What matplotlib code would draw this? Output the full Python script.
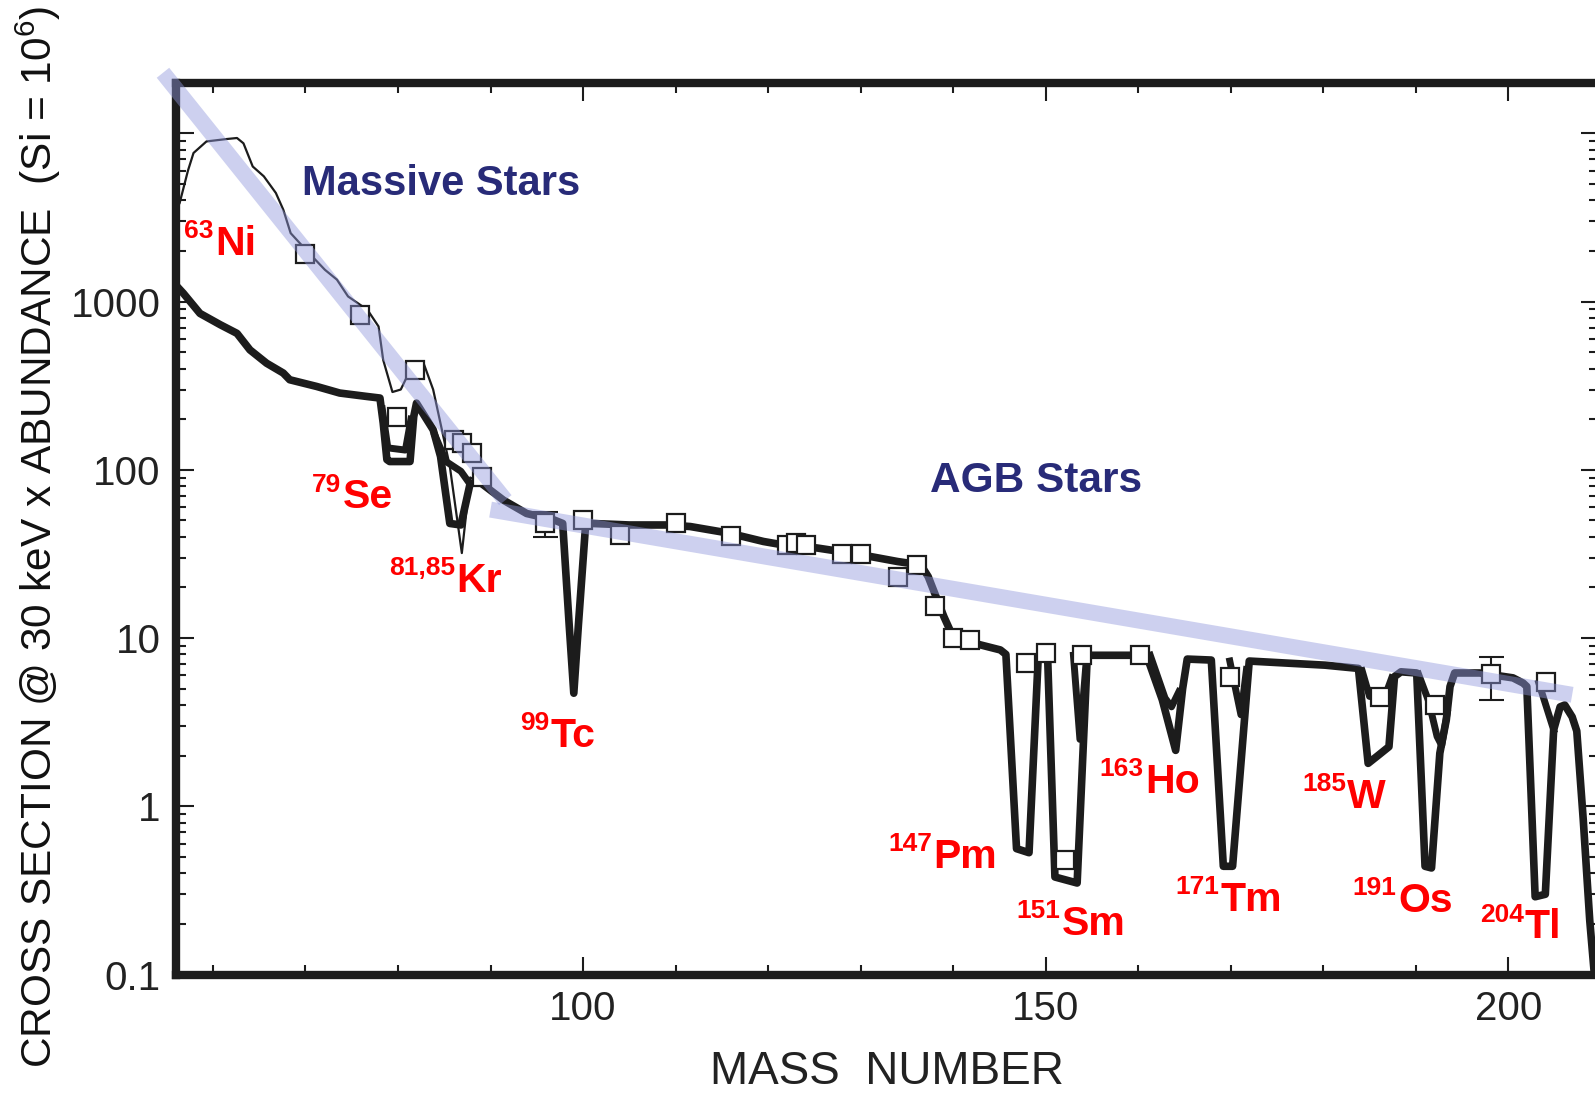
import numpy as np
import matplotlib
matplotlib.use("Agg")
import matplotlib.pyplot as plt

plt.rcParams['font.family'] = ['Liberation Sans', 'DejaVu Sans']
plt.rcParams['mathtext.fontset'] = 'custom'
plt.rcParams['mathtext.rm'] = 'Liberation Sans'
plt.rcParams['mathtext.it'] = 'Liberation Sans:italic'
plt.rcParams['mathtext.bf'] = 'Liberation Sans:bold'

# main s-process sigma*N curve (thick)
main_mass = [56.0, 56.8, 58.6, 60.8, 62.6, 64.0, 65.8, 67.6, 68.3, 71.2, 73.7, 76.6,
             78.05, 78.4, 78.8, 79.1, 81.3, 81.7, 82.0, 83.8, 84.6, 85.6, 86.8, 87.8,
             88.9, 91.4, 93.9, 96.8, 97.8, 98.5, 99.0, 99.5, 100.3, 100.9, 105.0, 109.2,
             111.6, 115.8, 119.5, 121.6, 125.3, 127.8, 131.1, 134.0, 136.5, 137.3, 138.0,
             139.0, 139.8, 142.3, 145.1, 145.7, 146.85, 148.2, 149.2, 150.2, 151.0, 153.4,
             154.5, 160.9, 162.6, 164.05, 164.8, 165.3, 167.9, 169.2, 170.2, 172.0, 180.2,
             183.8, 184.85, 185.9, 187.1, 187.7, 188.4, 190.1, 191.0, 191.7, 192.6, 193.3,
             193.7, 194.2, 196.9, 200.5, 201.6, 202.0, 202.9, 204.0, 204.9, 205.6, 206.1,
             206.9, 207.4, 208.1, 208.8, 209.3, 209.8]
main_sigma = [1250, 1120, 850, 728, 647, 516, 430, 376, 343, 313, 286, 273,
              267, 190, 115, 112, 112, 207, 249, 173, 120, 48, 47, 83,
              84, 66, 55, 50.5, 48, 12, 4.7, 12, 49, 48, 47, 47,
              46, 42, 37.5, 35.8, 34.3, 32.7, 30.5, 28.5, 27.2, 23.2, 18.5,
              13.4, 10.7, 9.3, 8.5, 8.0, 0.56, 0.53, 7.8, 8.0, 0.38, 0.35,
              7.9, 7.9, 4.3, 2.15, 5.0, 7.5, 7.4, 0.44, 0.44, 7.3, 6.9,
              6.6, 1.8, 2.0, 2.26, 5.9, 6.3, 6.2, 0.44, 0.43, 2.07, 3.27,
              5.15, 6.2, 6.2, 5.8, 5.4, 5.15, 0.29, 0.30, 2.85, 3.9, 4.0,
              3.4, 2.8, 0.83, 0.21, 0.1, 0.06]

# alternative branchings (thick), NaN separates the pieces
alt_mass = [78.3, 78.9, 80.8, 81.4, np.nan,
            84.0, 85.2, 86.8, 87.6, np.nan,
            153.0, 153.7, 154.4, np.nan,
            161.3, 162.9, 163.6, 164.4, np.nan,
            169.9, 171.1, 171.7, np.nan,
            184.2, 185.0, 186.6, 187.4, np.nan,
            190.3, 191.4, 192.3, 192.8, 193.4, np.nan,
            203.3, 204.9]
alt_sigma = [230, 135, 131, 200, np.nan,
             160, 112, 98, 85, np.nan,
             7.9, 2.5, 7.5, np.nan,
             7.9, 4.4, 3.9, 4.8, np.nan,
             7.3, 3.5, 6.5, np.nan,
             6.4, 4.5, 4.4, 5.8, np.nan,
             6.1, 4.2, 2.6, 2.3, 3.6, np.nan,
             5.4, 2.85]

# weak component from massive stars (thin)
weak_mass = [56.0, 56.4, 57.3, 57.9, 59.3, 61.5, 62.6, 63.3, 64.3, 65.5, 66.8, 67.6,
             68.4, 70.05, 72.1, 73.4, 74.6, 76.7, 77.9, 78.4, 79.4, 80.3, 81.2, 82.7,
             83.8, 84.9, 85.6, 86.9, 87.8, 88.9, 89.5]
weak_sigma = [3500, 3850, 6000, 7640, 8950, 9250, 9380, 8720, 6350, 5550, 4420, 3520,
              2550, 2030, 1545, 1350, 1073, 893, 711, 450, 290, 300, 380, 440,
              300, 158, 105, 32, 90, 84, 80]

# empirical values for s-only isotopes
s_only_mass = [70.0, 75.9, 79.9, 81.85, 86.0, 86.9, 88.0, 89.05, 95.9, 100.0, 104.0,
               110.0, 116.0, 122.0, 123.0, 124.1, 128.0, 130.05, 134.0, 136.05, 138.0,
               140.0, 141.8, 147.9, 150.0, 152.06, 153.9, 160.2, 169.95, 186.1, 192.1,
               198.1, 204.1]
s_only_sigma = [1915, 830, 206, 392, 151, 144, 126, 91, 48, 50.5, 41,
                48, 40.5, 35.8, 36.6, 35.8, 31.6, 31.6, 23.2, 27.2, 15.6,
                10.0, 9.75, 7.1, 8.1, 0.48, 7.9, 7.9, 5.9, 4.49, 4.0,
                6.1, 5.5]
err_mass = [95.9, 198.1]
err_sigma = [48, 6.1]
err_low = [40, 4.3]
err_high = [56.5, 7.7]

# schematic trends
massive_trend_mass = [54.6, 91.6]
massive_trend_sigma = [22900, 66]
agb_trend_mass = [90.0, 206.9]
agb_trend_sigma = [58, 4.6]

isotopes = [('63', 'Ni', 56.9, 1900), ('79', 'Se', 70.7, 59), ('81,85', 'Kr', 79.05, 18.9),
            ('99', 'Tc', 93.2, 2.26), ('147', 'Pm', 132.96, 0.43), ('151', 'Sm', 146.8, 0.172),
            ('163', 'Ho', 155.8, 1.20), ('171', 'Tm', 164.0, 0.24), ('185', 'W', 177.7, 0.975),
            ('191', 'Os', 183.2, 0.237), ('204', 'Tl', 196.9, 0.164)]

fig = plt.figure(figsize=(15.95, 10.95), dpi=100)
ax = fig.add_axes([0.1103, 0.1100, 0.8922, 0.8145])
ax.set_yscale('log')
ax.set_xlim(56, 209.8)
ax.set_ylim(0.1, 2.0e4)

ink = '#1c1c1c'
ax.plot(main_mass, main_sigma, color=ink, lw=5.5, solid_joinstyle='round', zorder=2)
ax.plot(alt_mass, alt_sigma, color=ink, lw=5, solid_joinstyle='round', zorder=2)
ax.plot(weak_mass, weak_sigma, color=ink, lw=1.6, zorder=2)

yerr = [np.array(err_sigma) - np.array(err_low), np.array(err_high) - np.array(err_sigma)]
ax.errorbar(err_mass, err_sigma, yerr=yerr, fmt='none', ecolor=ink, elinewidth=1.5,
            capsize=9, capthick=1.5, zorder=3)
ax.plot(s_only_mass, s_only_sigma, 's', ms=13, mfc='white', mec=ink, mew=1.6, zorder=3)

band = dict(color='#9198dc', alpha=0.45, lw=11.5, solid_capstyle='butt', zorder=4)
ax.plot(massive_trend_mass, massive_trend_sigma, clip_on=False, **band)
ax.plot(agb_trend_mass, agb_trend_sigma, clip_on=False, **band)

red = '#ff0000'
for mass, elem, x, y in isotopes:
    sup = ax.annotate(mass, xy=(x, y), xytext=(0, 12), textcoords='offset points',
                      ha='left', va='baseline', fontsize=19, fontweight='bold', color=red)
    ax.annotate(elem, xy=(1, y), xycoords=(sup, 'data'), xytext=(1, 0),
                textcoords='offset points', ha='left', va='baseline',
                fontsize=29.5, fontweight='bold', color=red)

navy = '#282b78'
ax.text(69.65, 4310, 'Massive Stars', fontsize=30, fontweight='bold', color=navy,
        ha='left', va='baseline')
ax.text(137.5, 74.3, 'AGB Stars', fontsize=30.5, fontweight='bold', color=navy,
        ha='left', va='baseline')

# axes styling
for side in ['left', 'bottom', 'top', 'right']:
    ax.spines[side].set_linewidth(6)
    ax.spines[side].set_color(ink)
ax.set_xticks([100, 150, 200])
ax.set_xticks(np.arange(60, 210, 10), minor=True)
ax.set_yticks([0.1, 1, 10, 100, 1000, 10000])
ax.set_yticklabels(['0.1', '1', '10', '100', '1000', ''])
ax.tick_params(which='both', direction='in', top=True, right=True, color=ink, width=1.5)
ax.tick_params(which='major', length=13, labelsize=29, labelcolor='#222222', pad=11)
ax.tick_params(which='minor', length=7)

fig.text(0.024, 0.51, 'CROSS SECTION @ 30 keV x ABUNDANCE  (Si = $10^{6}$)',
         rotation=90, ha='center', va='center', fontsize=30.5, color='#111111')
fig.text(0.556, 0.01, 'MASS  NUMBER', ha='center', va='baseline', fontsize=33,
         color='#222222')

fig.savefig('out.png', dpi=100)
